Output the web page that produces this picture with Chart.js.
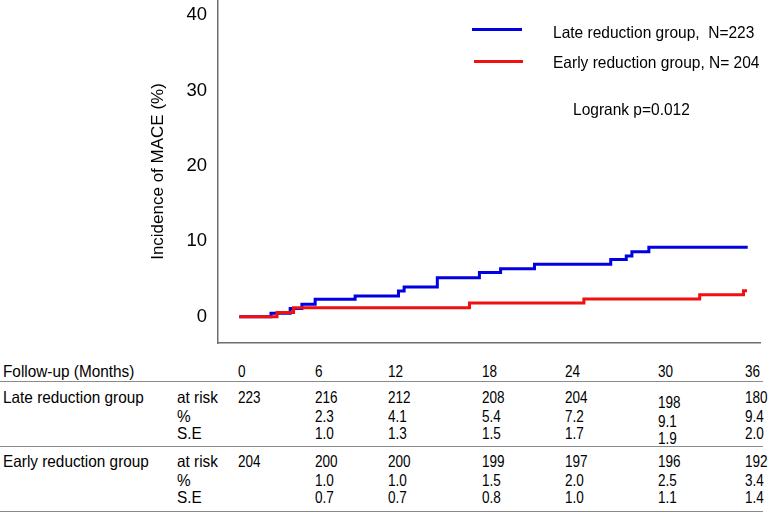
<!DOCTYPE html>
<html>
<head>
<meta charset="utf-8">
<script src="https://cdn.jsdelivr.net/npm/chart.js@4/dist/chart.umd.min.js"></script>
<style>
  html, body { margin: 0; padding: 0; background: #fff; }
  body { width: 776px; height: 513px; position: relative; overflow: hidden;
         font-family: "Liberation Sans", Arial, sans-serif; color: #000; }
  #wrap { position: absolute; left: 0; top: 0; width: 776px; height: 350px; }
  .t { position: absolute; white-space: pre; line-height: 1; transform-origin: 0 50%; }
  .hl { position: absolute; height: 0; border-top: 1.5px solid #8a8a8a; }
  .sw { position: absolute; height: 3px; }
</style>
</head>
<body>
<div id="wrap"><canvas id="c"></canvas></div>
<div id="overlay"></div>
<script>
// ---- Data ----
const lateLabel = "Late reduction group,  N=223";
const earlyLabel = "Early reduction group, N= 204";
const logrankText = "Logrank p=0.012";
const yTitle = "Incidence of MACE (%)";
const yTicks = [0, 10, 20, 30, 40];

const lateTimes  = [0, 2.24, 3.6, 4.43, 5.37, 8.2, 11.27, 11.67, 14.02, 17.0, 18.5, 20.9, 26.3, 27.4, 27.8, 29.0, 36];
const lateValues = [0, 0.45, 1.1, 1.65, 2.3, 2.75, 3.4, 3.95, 5.15, 5.85, 6.35, 6.95, 7.6, 8.05, 8.6, 9.2, 9.2];
const earlyTimes  = [0, 2.67, 3.84, 16.3, 24.4, 32.6, 35.7, 35.95];
const earlyValues = [0, 0.55, 1.2, 1.8, 2.35, 2.9, 3.45, 3.45];

const followUpLabel = "Follow-up (Months)";
const months = ["0", "6", "12", "18", "24", "30", "36"];
const lateGroupName = "Late reduction group";
const earlyGroupName = "Early reduction group";
const rowNames = ["at risk", "%", "S.E"];
const lateAtRisk = ["223", "216", "212", "208", "204", "198", "180"];
const latePct    = ["", "2.3", "4.1", "5.4", "7.2", "9.1", "9.4"];
const lateSE     = ["", "1.0", "1.3", "1.5", "1.7", "1.9", "2.0"];
const earlyAtRisk = ["204", "200", "200", "199", "197", "196", "192"];
const earlyPct    = ["", "1.0", "1.0", "1.5", "2.0", "2.5", "3.4"];
const earlySE     = ["", "0.7", "0.7", "0.8", "1.0", "1.1", "1.4"];

const BLUE = "#0000e0";
const RED = "#f01010";
const FONT = '"Liberation Sans", Arial, sans-serif';

const toPts = (ts, vs) => ts.map((t, i) => ({ x: t, y: vs[i] }));

new Chart(document.getElementById('c'), {
  type: 'line',
  data: {
    datasets: [
      { label: earlyLabel, data: toPts(earlyTimes, earlyValues), borderColor: RED, borderWidth: 3,
        stepped: true, pointRadius: 0, fill: false },
      { label: lateLabel, data: toPts(lateTimes, lateValues), borderColor: BLUE, borderWidth: 3,
        stepped: true, pointRadius: 0, fill: false }
    ]
  },
  options: {
    responsive: true, maintainAspectRatio: false, animation: false,
    layout: { autoPadding: false, padding: { left: 140, right: 16, top: 0, bottom: 7 } },
    plugins: { legend: { display: false }, tooltip: { enabled: false } },
    scales: {
      x: {
        type: 'linear', min: -1.51, max: 36.87,
        grid: { display: false, drawTicks: false },
        border: { display: true, color: '#6e6e6e', width: 1.5 },
        ticks: { display: false },
        afterFit: s => { s.height = 0; s.paddingLeft = 0; s.paddingRight = 0; }
      },
      y: {
        type: 'linear', min: -3.49, max: 42.0,
        grid: { display: false, drawTicks: false },
        border: { display: true, color: '#6e6e6e', width: 1.5 },
        afterBuildTicks: s => { s.ticks = yTicks.map(v => ({ value: v })); },
        ticks: { color: '#000', padding: 11, font: { family: FONT, size: 18.5 } },
        title: { display: true, text: yTitle, color: '#000', font: { family: FONT, size: 17 },
                 padding: { top: 8, bottom: 0 } },
        afterFit: s => { s.width = 78; s.paddingTop = 0; s.paddingBottom = 0; }
      }
    }
  }
});

// ---- Overlay: legend, logrank, risk table ----
const ov = document.getElementById('overlay');
function txt(s, x, y, size, sx) {
  const d = document.createElement('div');
  d.className = 't';
  d.textContent = s;
  d.style.left = x + 'px'; d.style.top = y + 'px'; d.style.fontSize = size + 'px';
  d.style.transform = 'translateY(-50%) scaleX(' + sx + ')';
  ov.appendChild(d);
}
function hline(x1, x2, y) {
  const d = document.createElement('div');
  d.className = 'hl';
  d.style.left = x1 + 'px'; d.style.width = (x2 - x1) + 'px'; d.style.top = y + 'px';
  ov.appendChild(d);
}
function swatch(x1, x2, y, c) {
  const d = document.createElement('div');
  d.className = 'sw';
  d.style.left = x1 + 'px'; d.style.width = (x2 - x1) + 'px'; d.style.top = (y - 1.5) + 'px';
  d.style.background = c;
  ov.appendChild(d);
}

swatch(472, 522, 29, BLUE);
swatch(474, 523, 61, RED);
const LS = 16.5, LX = 0.94;
txt(lateLabel, 553, 32, LS, LX);
txt(earlyLabel, 553, 61.5, LS, LX);
txt(logrankText, 573, 108.5, LS, LX);

const TS = 16.5, TX = 0.93, NX = 0.82;
const colX = [238, 315, 388, 482, 565, 658, 745];
txt(followUpLabel, 3, 371, TS, TX);
months.forEach((m, i) => txt(m, colX[i], 371, TS, NX));
hline(0, 763, 381);

const lateRows = [lateAtRisk, latePct, lateSE];
const lateY = [397, 415.5, 432.5];
txt(lateGroupName, 3, lateY[0], TS, TX);
lateRows.forEach((row, r) => {
  txt(rowNames[r], 177, lateY[r], TS, TX);
  row.forEach((v, i) => { if (v) txt(v, colX[i], lateY[r] + (i === 5 ? 5 : 0), TS, NX); });
});
hline(0, 763, 446);

const earlyRows = [earlyAtRisk, earlyPct, earlySE];
const earlyY = [461, 479.5, 497];
txt(earlyGroupName, 3, earlyY[0], TS, TX);
earlyRows.forEach((row, r) => {
  txt(rowNames[r], 177, earlyY[r], TS, TX);
  row.forEach((v, i) => { if (v) txt(v, colX[i], earlyY[r], TS, NX); });
});
hline(0, 763, 511);
</script>
</body>
</html>
